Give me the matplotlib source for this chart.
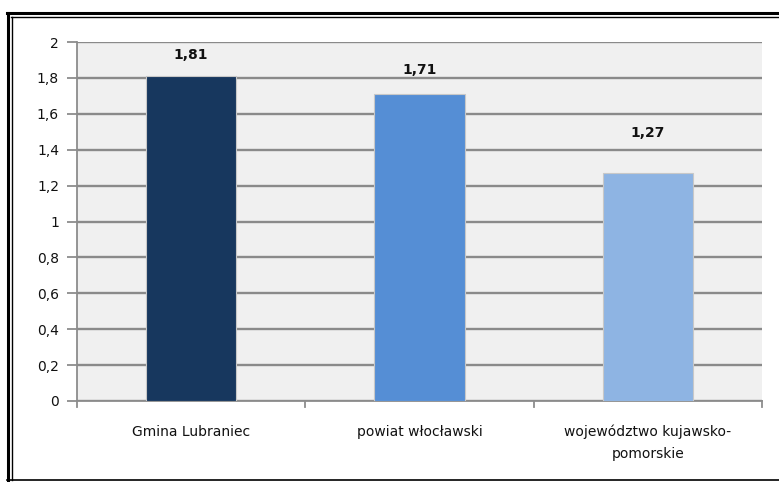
import matplotlib
matplotlib.use("Agg")
import matplotlib.pyplot as plt
from matplotlib.lines import Line2D

categories = ["Gmina Lubraniec", "powiat włocławski", "województwo kujawsko-\npomorskie"]
values = [1.81, 1.71, 1.27]
value_labels = ["1,81", "1,71", "1,27"]
colors = ["#17375E", "#558ED5", "#8EB4E3"]
yticks = [0, 0.2, 0.4, 0.6, 0.8, 1.0, 1.2, 1.4, 1.6, 1.8, 2.0]
ytick_labels = ["0", "0,2", "0,4", "0,6", "0,8", "1", "1,2", "1,4", "1,6", "1,8", "2"]
label_offsets = [0.12, 0.135, 0.225]

W, H = 779, 482
fig = plt.figure(figsize=(W / 100, H / 100), dpi=100)
fig.patch.set_facecolor("white")

ax = fig.add_axes([77 / W, 1 - 401 / H, (762 - 77) / W, (401 - 42) / H])
ax.set_facecolor("#F0F0F0")

x = list(range(len(categories)))
ax.bar(x, values, width=0.395, color=colors, edgecolor="#C8C8C8", linewidth=0.8, zorder=3)
for xi, v, lab, off in zip(x, values, value_labels, label_offsets):
    ax.text(xi, v + off, lab, ha="center", va="center", fontsize=10, fontweight="bold", color="#111111")

ax.set_xlim(-0.5, 2.5)
ax.set_ylim(0, 2)
ax.set_yticks(yticks)
ax.set_yticklabels(ytick_labels, fontsize=10, color="#111111")
ax.set_xticks(x)
ax.set_xticklabels(categories, fontsize=10, color="#111111", linespacing=1.75)
ax.tick_params(axis="x", length=0, pad=17)
ax.tick_params(axis="y", length=7, width=1.3, color="#8C8C8C", pad=6)
ax.yaxis.grid(True, color="#8A8A8A", linewidth=1.7, zorder=0)
ax.set_axisbelow(True)
for s in ["top", "right"]:
    ax.spines[s].set_visible(False)
ax.spines["left"].set_color("#8C8C8C")
ax.spines["left"].set_linewidth(1.3)
ax.spines["bottom"].set_color("#8C8C8C")
ax.spines["bottom"].set_linewidth(1.3)
# category separator ticks
for b in [-0.5, 0.5, 1.5, 2.5]:
    ax.plot([b, b], [0, -0.035], color="#8C8C8C", linewidth=1.3, clip_on=False, zorder=4)

def fx(px):
    return px / W

def fy(py):
    return 1 - py / H

# double border (left and top), single bottom
fig.add_artist(Line2D([fx(8), fx(8)], [fy(13), fy(480)], color="black", linewidth=2.2))
fig.add_artist(Line2D([fx(11.5), fx(11.5)], [fy(16.5), fy(480)], color="black", linewidth=1.0))
fig.add_artist(Line2D([fx(7), fx(779)], [fy(13), fy(13)], color="black", linewidth=2.2))
fig.add_artist(Line2D([fx(11), fx(779)], [fy(16.5), fy(16.5)], color="black", linewidth=1.0))
fig.add_artist(Line2D([fx(7), fx(779)], [fy(479.5), fy(479.5)], color="black", linewidth=1.2))

fig.savefig("out.png", dpi=100)
